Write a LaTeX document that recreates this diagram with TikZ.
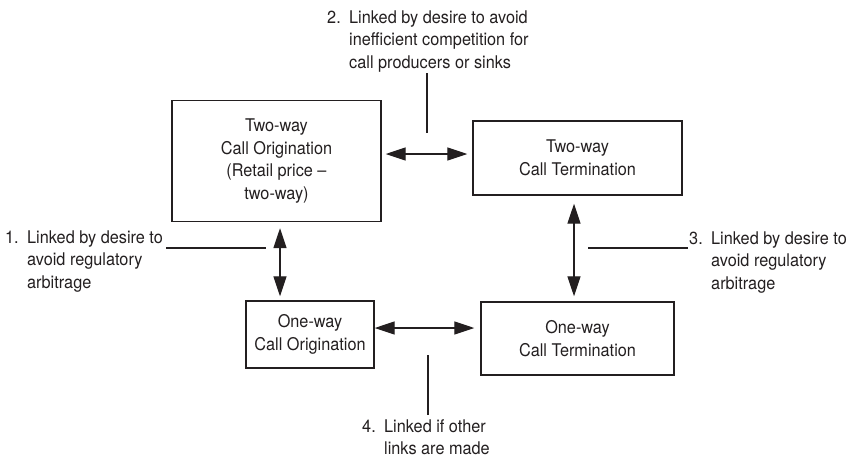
\documentclass[tikz,border=0pt]{standalone}
\usepackage{fontspec}
\setmainfont{TeX Gyre Heros}[FakeStretch=0.93]
\usetikzlibrary{arrows.meta}
\definecolor{ink}{RGB}{35,31,32}
\tikzset{
  box/.style={draw=ink, line width=1.4pt, inner sep=0pt, align=center, text=ink},
  link/.style={draw=ink, line width=1.3pt, {Triangle[length=20pt,width=13pt]}-{Triangle[length=20pt,width=13pt]}},
  leader/.style={draw=ink, line width=1.1pt},
  note/.style={inner sep=0pt, anchor=base west, text=ink}
}
\newcommand{\nitem}[1]{\makebox[22pt][l]{#1}}
\begin{document}
\begin{tikzpicture}[x=1pt, y=-1pt, font=\fontsize{17.5}{22.6}\selectfont]
\useasboundingbox (0,0) rectangle (852,466);

% the four boxes
\node[box, minimum width=209pt, minimum height=121pt] (tworig) at (276.5,161)
  {Two-way\\Call Origination\\(Retail price --\\two-way)};
\node[box, minimum width=209pt, minimum height=74pt] (twterm) at (577.5,158)
  {Two-way\\Call Termination};
\node[box, minimum width=128pt, minimum height=67pt] (oworig) at (310,334.5)
  {One-way\\Call Origination};
\node[box, minimum width=193pt, minimum height=73pt] (owterm) at (577.5,338.5)
  {One-way\\Call Termination};

% double-headed links between the boxes
\draw[link, shorten <=4pt, shorten >=5pt] (tworig.east |- 0,154) -- (twterm.west |- 0,154);
\draw[link, shorten <=6pt, shorten >=4pt] (280,0 |- tworig.south) -- (280,0 |- oworig.north);
\draw[link, shorten <=8pt, shorten >=5pt] (574,0 |- twterm.south) -- (574,0 |- owterm.north);
\draw[link, shorten >=6pt] (oworig.east |- 0,328) -- (owterm.west |- 0,328);

% numbered notes
\node[note] (n2) at (327,23) {\begin{tabular}[t]{@{}l@{}l@{}}
  \nitem{2.} & Linked by desire to avoid\\
  & inefficient competition for\\
  & call producers or sinks\end{tabular}};
\node[note] (n1) at (5,243) {\begin{tabular}[t]{@{}l@{}l@{}}
  \nitem{1.} & Linked by desire to\\
  & avoid regulatory\\
  & arbitrage\end{tabular}};
\node[note] (n3) at (689,244) {\begin{tabular}[t]{@{}l@{}l@{}}
  \nitem{3.} & Linked by desire to\\
  & avoid regulatory\\
  & arbitrage\end{tabular}};
\node[note] (n4) at (362,432) {\begin{tabular}[t]{@{}l@{}l@{}}
  \nitem{4.} & Linked if other\\
  & links are made\end{tabular}};

% leader lines from the notes to the links
\coordinate (l2a) at (427,73);  \coordinate (l2b) at (427,133);
\coordinate (l1a) at (166,248); \coordinate (l1b) at (266,248);
\coordinate (l3a) at (588,248); \coordinate (l3b) at (688,248);
\coordinate (l4a) at (428,355); \coordinate (l4b) at (428,415);
\draw[leader] (l2a) -- (l2b);
\draw[leader] (l1a) -- (l1b);
\draw[leader] (l3a) -- (l3b);
\draw[leader] (l4a) -- (l4b);
\end{tikzpicture}
\end{document}
